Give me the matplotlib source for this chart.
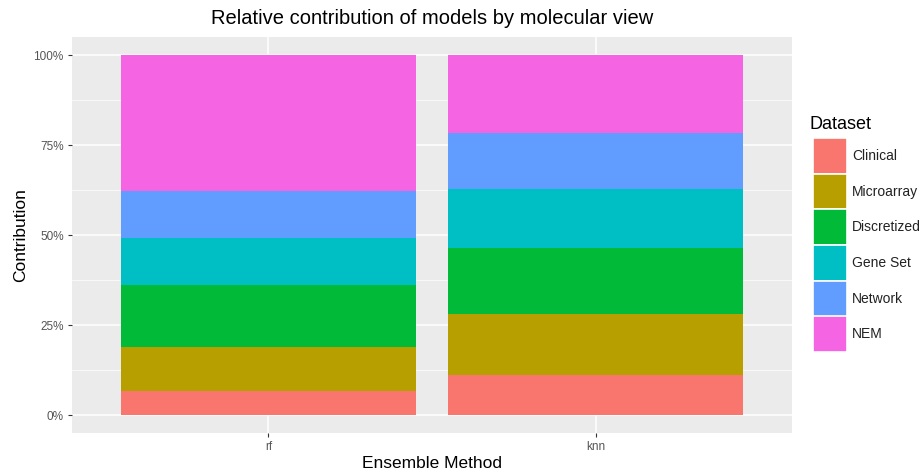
import numpy as np
import matplotlib.pyplot as plt
from matplotlib.patches import Rectangle
from matplotlib.ticker import FixedLocator, PercentFormatter

plt.rcParams['font.family'] = ['Liberation Sans', 'DejaVu Sans']

methods = ['rf', 'knn']
datasets = ['Clinical', 'Microarray', 'Discretized', 'Gene Set', 'Network', 'NEM']
colors = ['#F8766D', '#B79F00', '#00BA38', '#00BFC4', '#619CFF', '#F564E3']
# share of each dataset per method (fractions)
rf_share = [0.068, 0.122, 0.172, 0.130, 0.130, 0.378]
knn_share = [0.112, 0.169, 0.182, 0.164, 0.156, 0.217]

shares = np.array([rf_share, knn_share])

W, H = 920, 473
fig = plt.figure(figsize=(W / 100, H / 100), dpi=100)
ax = fig.add_axes([72 / W, 40 / H, 720 / W, 396 / H])
ax.set_facecolor('#EBEBEB')

x = np.arange(1, len(methods) + 1)
bottom = np.zeros(len(methods))
for i, name in enumerate(datasets):
    ax.bar(x, shares[:, i], width=0.9, bottom=bottom, color=colors[i],
           label=name, zorder=3, linewidth=0)
    bottom += shares[:, i]

ax.set_xlim(0.4, 2.6)
ax.set_ylim(-0.05, 1.05)
ax.set_xticks(x)
ax.set_xticklabels(methods)
ax.yaxis.set_major_locator(FixedLocator([0, 0.25, 0.5, 0.75, 1.0]))
ax.yaxis.set_minor_locator(FixedLocator([0.125, 0.375, 0.625, 0.875]))
ax.yaxis.set_major_formatter(PercentFormatter(1.0, decimals=0))
ax.grid(which='major', color='white', linewidth=1.1, zorder=0)
ax.grid(which='minor', axis='y', color='white', linewidth=0.5, zorder=0)
ax.tick_params(which='major', length=3, color='#333333', labelcolor='#555555',
               labelsize=8.5, pad=3)
ax.tick_params(which='minor', length=0)
for s in ax.spines.values():
    s.set_visible(False)

ax.set_xlabel('Ensemble Method', fontsize=12.5, labelpad=2)
ax.set_ylabel('Contribution', fontsize=12.5, labelpad=4)
ax.set_title('Relative contribution of models by molecular view', fontsize=14.5, pad=9)

# legend drawn by hand (ggplot style keys)
fig.text(810 / W, 1 - 124 / H, 'Dataset', fontsize=13, va='center', ha='left')
key_top, key_h, key_x, key_w = 138, 35.7, 813, 34
for i, name in enumerate(datasets):
    y0 = key_top + i * key_h
    fig.patches.append(Rectangle((key_x / W, 1 - (y0 + key_h) / H), key_w / W, key_h / H,
                                 transform=fig.transFigure, facecolor=colors[i],
                                 edgecolor='white', linewidth=1.2))
    fig.text(852 / W, 1 - (y0 + key_h / 2) / H, name, fontsize=10,
             va='center', ha='left', color='#222222')

fig.savefig('out.png', dpi=100)
